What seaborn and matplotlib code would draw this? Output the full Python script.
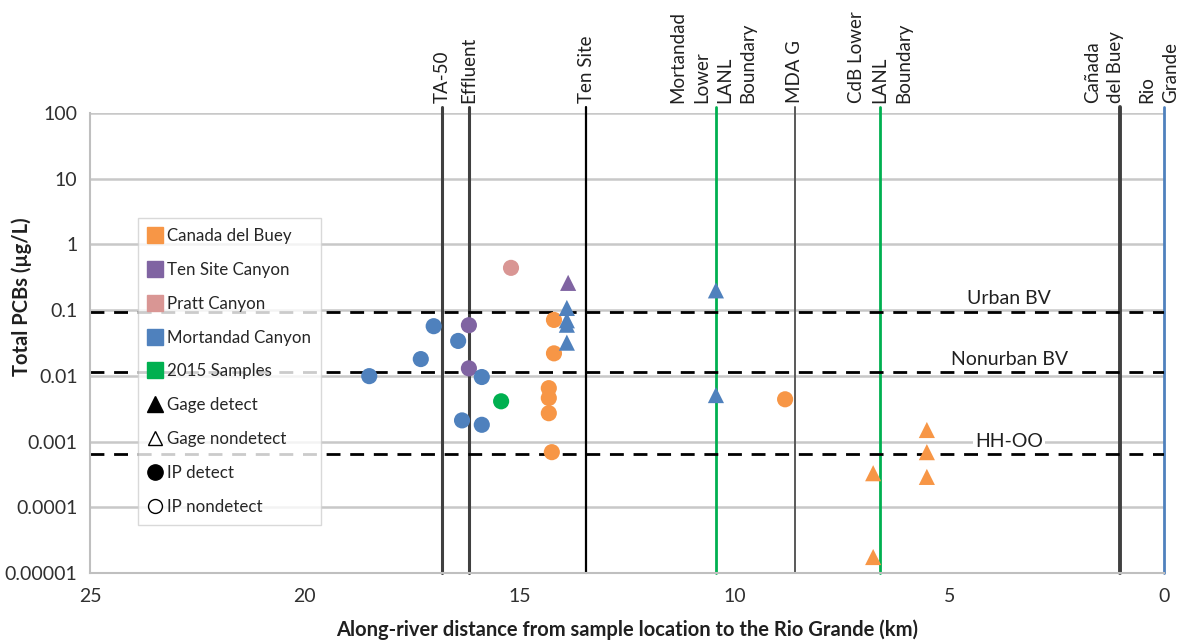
import numpy as np
import pandas as pd
import matplotlib
matplotlib.use("Agg")
import matplotlib.pyplot as plt
from matplotlib.lines import Line2D
import seaborn as sns

# ---- data ----
cdb_km = [14.2, 14.2, 14.32, 14.32, 14.32, 14.25, 8.82]
cdb_pcb = [0.071, 0.022, 0.0065, 0.0046, 0.0027, 0.00069, 0.0044]
cdb_gage_km = [5.52, 5.52, 5.52, 6.77, 6.77]
cdb_gage_pcb = [0.0015, 0.00069, 0.00029, 0.00033, 0.0000175]

ten_km = [16.18, 16.18]
ten_pcb = [0.059, 0.013]
ten_gage_km = [13.87]
ten_gage_pcb = [0.26]

pratt_km = [15.2]
pratt_pcb = [0.44]

mort_km = [18.5, 17.3, 17.0, 16.43, 15.88, 16.34, 15.88]
mort_pcb = [0.0099, 0.018, 0.057, 0.034, 0.0096, 0.0021, 0.0018]
mort_gage_km = [13.9, 13.9, 13.9, 13.9, 10.43, 10.43]
mort_gage_pcb = [0.108, 0.07, 0.06, 0.032, 0.2, 0.0051]

s2015_km = [15.43]
s2015_pcb = [0.0041]

groups = ["Canada del Buey", "Ten Site Canyon", "Pratt Canyon",
          "Mortandad Canyon", "2015 Samples"]
colors = ["#F79646", "#8064A2", "#D99694", "#4F81BD", "#00B050"]

site_names = ["TA-50", "Effluent", "Ten Site", "Mortandad\nLower\nLANL\nBoundary",
              "MDA G", "CdB Lower\nLANL\nBoundary", "Cañada\ndel Buey", "Rio\nGrande"]
site_km = [16.8, 16.18, 13.45, 10.43, 8.59, 6.61, 1.02, 0.0]
site_label_km = [16.8, 16.18, 13.45, 10.5, 8.59, 6.61, 1.39, 0.12]
site_colors = ["#404040", "#404040", "#000000", "#00B050", "#595959",
               "#00B050", "#404040", "#4F81BD"]
site_widths = [2.2, 2.2, 1.6, 2.0, 1.4, 2.0, 2.8, 2.0]

bv_names = ["Urban BV", "Nonurban BV", "HH-OO"]
bv_values = [0.094, 0.0113, 0.00064]
bv_label_y = [0.15, 0.018, 0.001]

ytick_vals = [1e-5, 1e-4, 1e-3, 1e-2, 1e-1, 1, 10, 100]
ytick_labels = ["0.00001", "0.0001", "0.001", "0.01", "0.1", "1", "10", "100"]

rows = []
def add(kms, vals, grp, kind):
    for k, v in zip(kms, vals):
        rows.append({"km": k, "pcb": v, "group": grp, "kind": kind})

add(cdb_km, cdb_pcb, groups[0], "IP")
add(cdb_gage_km, cdb_gage_pcb, groups[0], "Gage")
add(ten_km, ten_pcb, groups[1], "IP")
add(ten_gage_km, ten_gage_pcb, groups[1], "Gage")
add(pratt_km, pratt_pcb, groups[2], "IP")
add(mort_km, mort_pcb, groups[3], "IP")
add(mort_gage_km, mort_gage_pcb, groups[3], "Gage")
add(s2015_km, s2015_pcb, groups[4], "IP")
df = pd.DataFrame(rows)

sns.set_style("white")
plt.rcParams["font.family"] = ["Lato", "DejaVu Sans"]

fig = plt.figure(figsize=(11.8, 6.42), dpi=100)
ax = fig.add_axes([90 / 1180, 1 - 573 / 642, 1074 / 1180, 460 / 642])

ax.set_yscale("log")
ax.set_xlim(25, 0)
ax.set_ylim(1e-5, 100)

# grid
for v in ytick_vals:
    ax.axhline(v, color="#C8C8C8", lw=1.8, zorder=0)

# vertical site lines
for k, c, w, name, lk in zip(site_km, site_colors, site_widths, site_names, site_label_km):
    ax.axvline(k, ymin=0, ymax=1.012, color=c, lw=w, clip_on=False, zorder=1)
    ax.annotate(name, xy=(lk, 1), xycoords=("data", "axes fraction"),
                xytext=(0, 7), textcoords="offset points", rotation=90,
                ha="center", va="bottom", multialignment="left",
                fontsize=13.5, color="#202020", linespacing=1.45)

# screening levels
for v in bv_values:
    ax.axhline(v, color="black", lw=2, dashes=(5, 3.5), zorder=2)
for name, y in zip(bv_names, bv_label_y):
    ax.text(3.6, y, name, ha="center", va="center", fontsize=14,
            color="#202020", zorder=3,
            bbox=dict(facecolor="white", edgecolor="none", pad=1.5) if name == "HH-OO" else None)

sns.scatterplot(data=df, x="km", y="pcb", hue="group", style="kind",
                hue_order=groups, palette=colors,
                markers={"IP": "o", "Gage": "^"}, s=135, linewidth=0,
                legend=False, ax=ax, zorder=4)

ax.set_yticks(ytick_vals)
ax.set_yticklabels(ytick_labels)
ax.minorticks_off()
ax.set_xticks([25, 20, 15, 10, 5, 0])
ax.set_xticklabels(["25", "20", "15", "10", "5", "0"])
ax.tick_params(axis="both", labelsize=14, labelcolor="#303030",
               length=5, color="#BFBFBF", width=1.2, direction="out")
ax.tick_params(axis="y", pad=4)
ax.tick_params(axis="x", pad=6)

for side in ["top", "right"]:
    ax.spines[side].set_visible(False)
for side in ["left", "bottom"]:
    ax.spines[side].set_color("#BFBFBF")
    ax.spines[side].set_linewidth(1.5)

ax.set_xlabel("Along-river distance from sample location to the Rio Grande (km)",
              fontsize=14.5, fontweight="bold", color="#202020")
ax.set_ylabel("Total PCBs (µg/L)", fontsize=14.5, fontweight="bold",
              color="#202020")
ax.xaxis.set_label_coords(0.5, (573 - 630) / 460)
ax.yaxis.set_label_coords((22 - 90) / 1074, (573 - 297) / 460)
ax.xaxis.label.set_va("center")
ax.yaxis.label.set_va("center")

handles = [Line2D([], [], marker="s", ls="", color=c, markersize=11, label=g)
           for g, c in zip(groups, colors)]
handles += [
    Line2D([], [], marker="^", ls="", color="black", markersize=11, label="Gage detect"),
    Line2D([], [], marker="^", ls="", markerfacecolor="white", markeredgecolor="black",
           markersize=10, label="Gage nondetect"),
    Line2D([], [], marker="o", ls="", color="black", markersize=11, label="IP detect"),
    Line2D([], [], marker="o", ls="", markerfacecolor="white", markeredgecolor="black",
           markersize=10, label="IP nondetect"),
]
leg = ax.legend(handles=handles, loc="upper left",
                bbox_to_anchor=(48 / 1074, (573 - 218) / 460), borderaxespad=0,
                fontsize=12.2, labelspacing=1.05, handlelength=0.8,
                handletextpad=0.3, borderpad=0.6, frameon=True, fancybox=False)
leg.get_frame().set_edgecolor("#D0D0D0")
leg.get_frame().set_linewidth(1)
leg.set_zorder(5)

fig.savefig("out.png", dpi=100)
